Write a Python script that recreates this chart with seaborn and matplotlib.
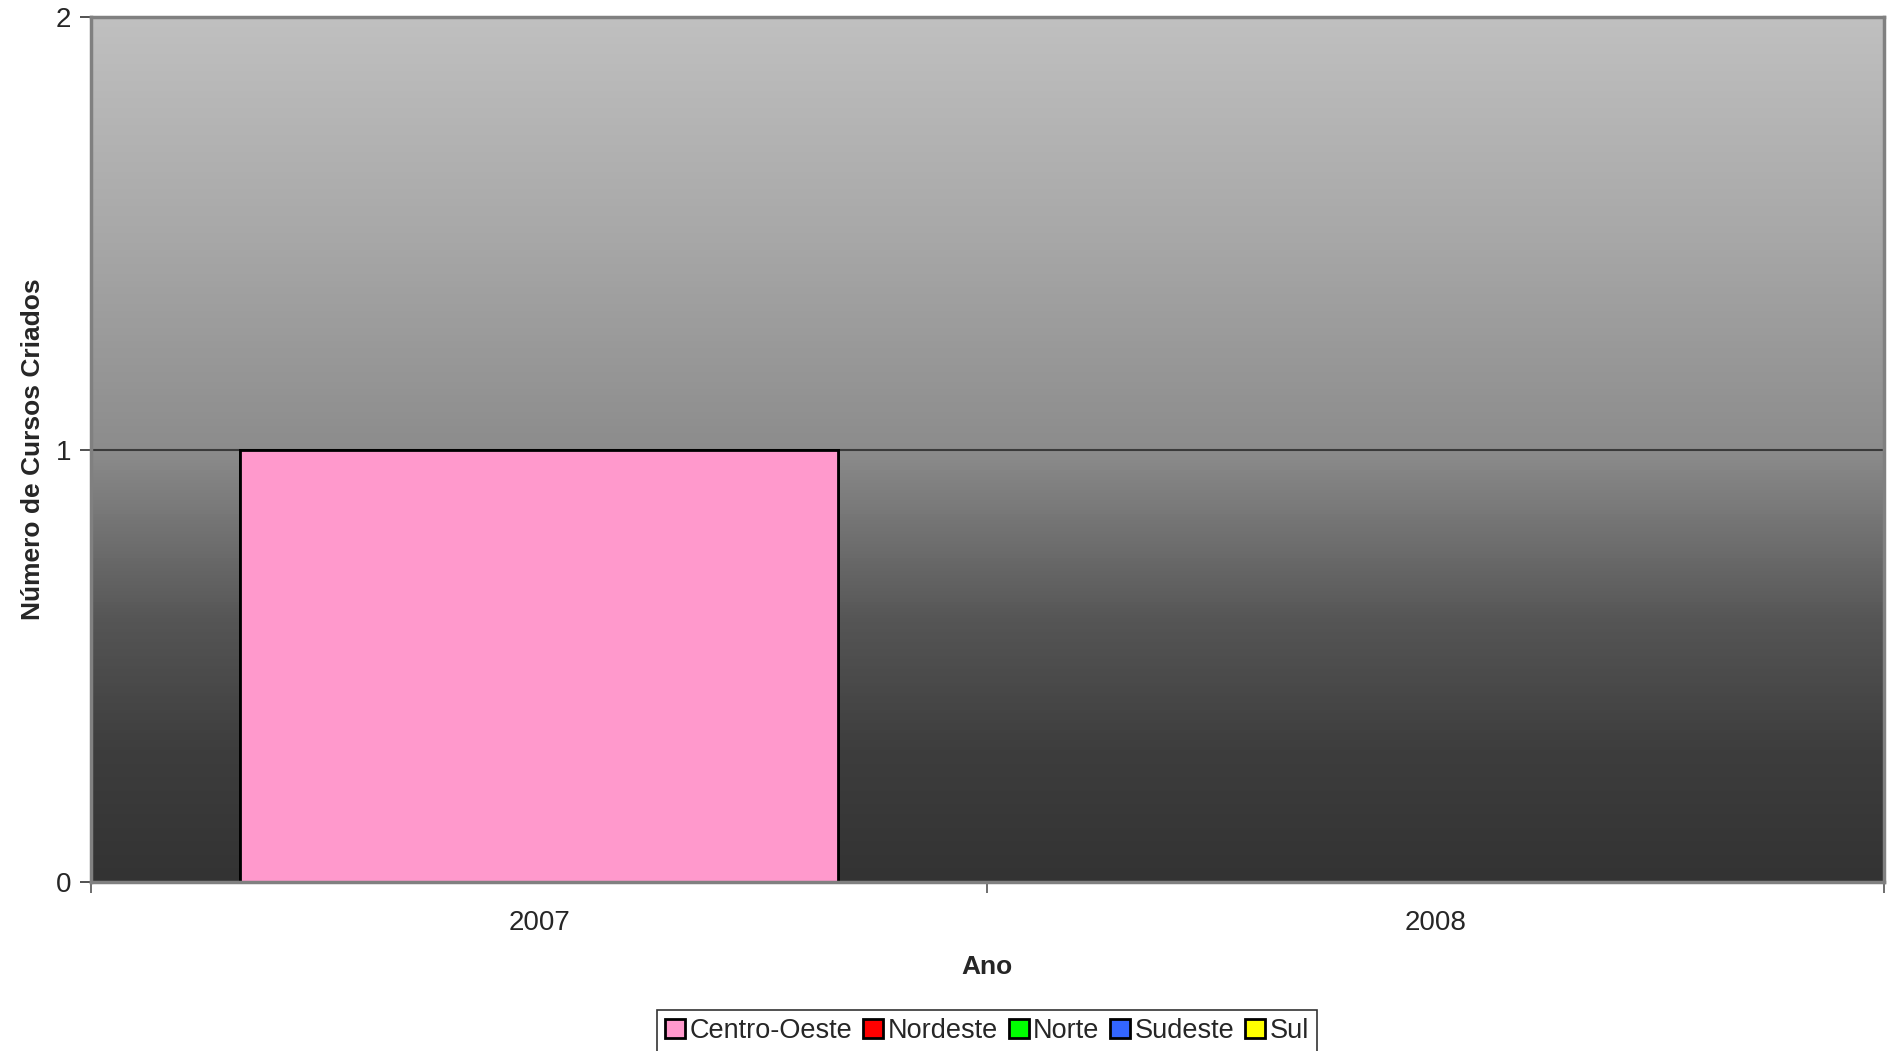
import numpy as np
import pandas as pd
import matplotlib.pyplot as plt
import seaborn as sns
from matplotlib.colors import LinearSegmentedColormap
from matplotlib.patches import Patch

# Data
anos = ["2007", "2008"]
regioes = ["Centro-Oeste", "Nordeste", "Norte", "Sudeste", "Sul"]
centro_oeste = [1, 0]
nordeste = [0, 0]
norte = [0, 0]
sudeste = [0, 0]
sul = [0, 0]
cores = ["#FF99CC", "#FF0000", "#00FF00", "#3366FF", "#FFFF00"]

sns.set_theme(style="white")
plt.rcParams["font.family"] = ["Liberation Sans", "DejaVu Sans"]

df = pd.DataFrame(
    {"Ano": anos, "Centro-Oeste": centro_oeste, "Nordeste": nordeste,
     "Norte": norte, "Sudeste": sudeste, "Sul": sul}
)
cum = df[regioes].cumsum(axis=1)

fig = plt.figure(figsize=(18.9, 10.51), dpi=100)
ax = fig.add_axes([0.0481, 0.1608, 0.9487, 0.823])

# Gradient background
grad = LinearSegmentedColormap.from_list(
    "bg", [(0, "#333333"), (0.15, "#3d3d3d"), (0.3, "#555555"),
           (0.5, "#8c8c8c"), (0.75, "#a8a8a8"), (1, "#c0c0c0")]
)
ax.imshow(np.linspace(0, 1, 256).reshape(-1, 1), cmap=grad, origin="lower",
          extent=[-0.5, 1.5, 0, 2], aspect="auto", zorder=0)

# Gridline
ax.axhline(1, color="#3a3a3a", linewidth=1.5, zorder=1)

# Stacked bars (draw cumulative from top series down)
for reg, cor in reversed(list(zip(regioes, cores))):
    sns.barplot(x=df["Ano"], y=cum[reg], color=cor, width=2 / 3,
                edgecolor="black", linewidth=2, saturation=1, ax=ax, zorder=2)
for p in ax.patches:
    if p.get_height() == 0:
        p.set_visible(False)

ax.set_xlim(-0.5, 1.5)
ax.set_ylim(0, 2)
ax.set_yticks([0, 1, 2])
ax.set_yticklabels(["0", "1", "2"], fontsize=20)
ax.set_xticks([0, 1])
ax.set_xticklabels(anos, fontsize=20)
ax.set_xticks([-0.5, 0.5, 1.5], minor=True)
ax.tick_params(axis="x", which="major", length=0, pad=20)
ax.tick_params(axis="x", which="minor", length=8, width=1.2, color="#555555", direction="out", bottom=True)
ax.tick_params(axis="y", length=8, width=1.2, color="#333333", direction="out", left=True, pad=6)

for s in ax.spines.values():
    s.set_color("#808080")
    s.set_linewidth(2.5)

ax.set_xlabel("Ano", fontsize=19, fontweight="bold", labelpad=14)
ax.set_ylabel("Número de Cursos Criados", fontsize=19, fontweight="bold", labelpad=8)

handles = [Patch(facecolor=c, edgecolor="black", linewidth=2, label=r) for r, c in zip(regioes, cores)]
leg = fig.legend(handles=handles, loc="center", bbox_to_anchor=(987 / 1890, 1 - 1031 / 1051),
                 ncol=5, fontsize=19.5, frameon=True, fancybox=False, handlelength=0.75,
                 handleheight=0.75, handletextpad=0.15, columnspacing=0.4, borderpad=0.3)
leg.get_frame().set_edgecolor("black")
leg.get_frame().set_linewidth(1.2)

fig.savefig("out.png", dpi=100)
